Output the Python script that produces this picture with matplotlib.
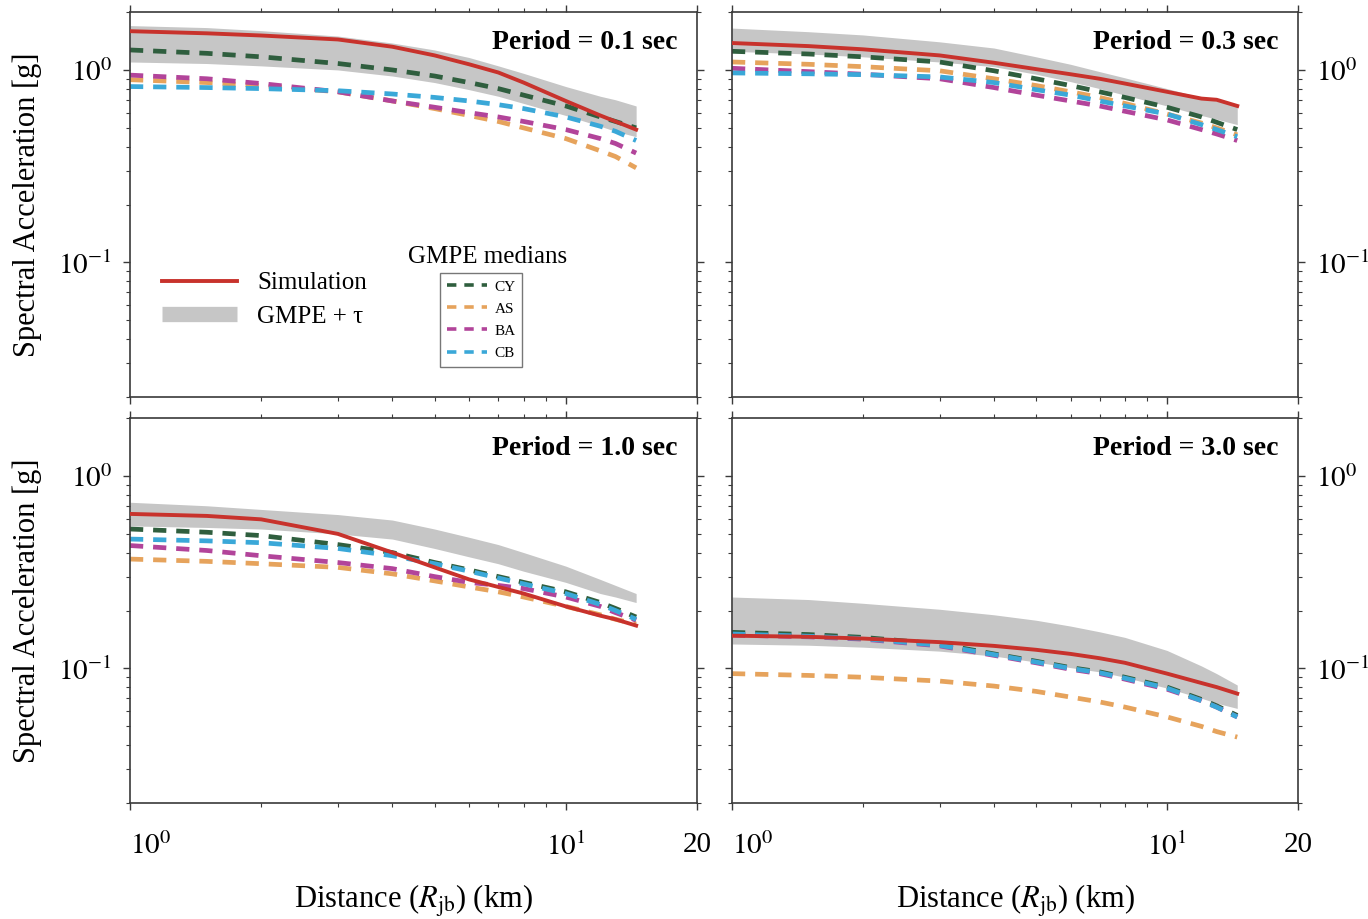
import matplotlib
matplotlib.use("Agg")
import matplotlib.pyplot as plt
from matplotlib.lines import Line2D
from matplotlib.ticker import LogLocator, NullFormatter

plt.rcParams['font.family'] = ['Liberation Serif', 'DejaVu Serif']
plt.rcParams['mathtext.fontset'] = 'stix'

# Joyner-Boore distance (km)
distance_km = [1.0, 1.5, 2.0, 3.0, 4.0, 5.0, 6.0, 7.0, 8.0, 10.0, 12.0, 13.0, 14.5]

period_labels = ["Period = 0.1 sec", "Period = 0.3 sec", "Period = 1.0 sec", "Period = 3.0 sec"]
gmpe_names = ["CY", "AS", "BA", "CB"]

# ---- T = 0.1 s ----
sim_t01 = [1.59, 1.55, 1.51, 1.44, 1.32, 1.19, 1.07, 0.97, 0.86, 0.69, 0.58, 0.54, 0.49]
band_hi_t01 = [1.70, 1.66, 1.60, 1.50, 1.38, 1.27, 1.16, 1.05, 0.96, 0.82, 0.73, 0.70, 0.65]
band_lo_t01 = [1.10, 1.08, 1.05, 1.00, 0.93, 0.86, 0.79, 0.73, 0.67, 0.58, 0.51, 0.48, 0.45]
cy_t01 = [1.27, 1.22, 1.17, 1.08, 1.00, 0.93, 0.86, 0.80, 0.74, 0.65, 0.57, 0.54, 0.50]
as_t01 = [0.89, 0.86, 0.83, 0.77, 0.69, 0.63, 0.58, 0.54, 0.50, 0.44, 0.38, 0.355, 0.31]
ba_t01 = [0.94, 0.90, 0.85, 0.77, 0.69, 0.64, 0.60, 0.57, 0.54, 0.49, 0.44, 0.415, 0.37]
cb_t01 = [0.82, 0.81, 0.80, 0.78, 0.75, 0.72, 0.69, 0.66, 0.63, 0.57, 0.51, 0.48, 0.43]

# ---- T = 0.3 s ----
sim_t03 = [1.38, 1.33, 1.28, 1.19, 1.09, 1.01, 0.95, 0.90, 0.85, 0.77, 0.71, 0.70, 0.65]
band_hi_t03 = [1.65, 1.58, 1.52, 1.40, 1.30, 1.17, 1.07, 0.98, 0.91, 0.80, 0.72, 0.69, 0.66]
band_lo_t03 = [1.25, 1.21, 1.17, 1.10, 1.04, 0.95, 0.87, 0.80, 0.74, 0.65, 0.58, 0.555, 0.52]
cy_t03 = [1.25, 1.21, 1.17, 1.10, 0.99, 0.90, 0.83, 0.77, 0.72, 0.64, 0.57, 0.535, 0.49]
as_t03 = [1.10, 1.07, 1.04, 0.99, 0.90, 0.83, 0.77, 0.72, 0.67, 0.59, 0.53, 0.50, 0.46]
ba_t03 = [1.02, 0.98, 0.95, 0.90, 0.81, 0.74, 0.69, 0.65, 0.61, 0.55, 0.49, 0.465, 0.43]
cb_t03 = [0.965, 0.955, 0.945, 0.92, 0.86, 0.79, 0.74, 0.69, 0.65, 0.59, 0.52, 0.49, 0.45]

# ---- T = 1.0 s ----
sim_t10 = [0.635, 0.62, 0.595, 0.50, 0.40, 0.335, 0.29, 0.265, 0.245, 0.21, 0.188, 0.18, 0.167]
band_hi_t10 = [0.73, 0.70, 0.67, 0.63, 0.59, 0.53, 0.48, 0.44, 0.40, 0.34, 0.29, 0.27, 0.245]
band_lo_t10 = [0.55, 0.54, 0.53, 0.50, 0.47, 0.42, 0.38, 0.35, 0.32, 0.28, 0.245, 0.235, 0.22]
cy_t10 = [0.53, 0.51, 0.49, 0.44, 0.40, 0.355, 0.325, 0.30, 0.28, 0.25, 0.22, 0.205, 0.185]
as_t10 = [0.37, 0.36, 0.35, 0.335, 0.31, 0.285, 0.265, 0.25, 0.235, 0.21, 0.19, 0.18, 0.17]
ba_t10 = [0.435, 0.41, 0.385, 0.355, 0.33, 0.30, 0.28, 0.27, 0.26, 0.235, 0.21, 0.195, 0.178]
cb_t10 = [0.47, 0.46, 0.45, 0.42, 0.385, 0.35, 0.32, 0.295, 0.275, 0.245, 0.215, 0.20, 0.18]

# ---- T = 3.0 s ----
sim_t30 = [0.148, 0.146, 0.143, 0.137, 0.131, 0.125, 0.119, 0.113, 0.107, 0.094, 0.084, 0.080, 0.074]
band_hi_t30 = [0.235, 0.228, 0.218, 0.203, 0.190, 0.178, 0.166, 0.155, 0.145, 0.124, 0.103, 0.094, 0.082]
band_lo_t30 = [0.134, 0.132, 0.129, 0.123, 0.116, 0.108, 0.101, 0.096, 0.090, 0.079, 0.070, 0.066, 0.062]
cy_t30 = [0.154, 0.150, 0.145, 0.134, 0.119, 0.109, 0.101, 0.096, 0.090, 0.080, 0.069, 0.064, 0.057]
as_t30 = [0.094, 0.092, 0.090, 0.086, 0.081, 0.076, 0.071, 0.067, 0.063, 0.056, 0.050, 0.047, 0.044]
ba_t30 = [0.149, 0.146, 0.142, 0.131, 0.117, 0.107, 0.099, 0.094, 0.088, 0.078, 0.068, 0.063, 0.056]
cb_t30 = [0.151, 0.147, 0.143, 0.132, 0.118, 0.108, 0.100, 0.095, 0.089, 0.079, 0.068, 0.063, 0.056]

panels = [
    (sim_t01, band_lo_t01, band_hi_t01, [cy_t01, as_t01, ba_t01, cb_t01]),
    (sim_t03, band_lo_t03, band_hi_t03, [cy_t03, as_t03, ba_t03, cb_t03]),
    (sim_t10, band_lo_t10, band_hi_t10, [cy_t10, as_t10, ba_t10, cb_t10]),
    (sim_t30, band_lo_t30, band_hi_t30, [cy_t30, as_t30, ba_t30, cb_t30]),
]

sim_color = '#c8322c'
band_color = '#c6c6c6'
gmpe_colors = ['#2f5e3e', '#e6a35c', '#b2449a', '#3aa8d8']
spine_color = '#3a3a3a'

W, H = 1368, 919
fig = plt.figure(figsize=(W / 100, H / 100), dpi=100)

# axes boxes in pixels: left, top, right, bottom
boxes = [(130, 12, 697, 397), (732, 12, 1298, 397),
         (130, 418, 697, 803), (732, 418, 1298, 803)]

dash_lw = 3.4
dash_pattern = (2.8, 2.1)

for i, (box, (sim, lo, hi, medians)) in enumerate(zip(boxes, panels)):
    l, t, r, b = box
    ax = fig.add_axes([l / W, 1 - b / H, (r - l) / W, (b - t) / H])
    ax.set_xscale('log')
    ax.set_yscale('log')

    ax.fill_between(distance_km, lo, hi, color=band_color, lw=0, zorder=1)
    for vals, col in zip(medians, gmpe_colors):
        ax.plot(distance_km, vals, color=col, lw=dash_lw, dashes=dash_pattern,
                zorder=2)
    ax.plot(distance_km, sim, color=sim_color, lw=2.8, zorder=3,
            solid_joinstyle='round')

    ax.set_xlim(1, 20)
    ax.set_ylim(0.02, 2)

    ax.set_xticks([1, 10, 20], labels=['$10^{0}$', '$10^{1}$', '20'])
    ax.xaxis.set_minor_locator(LogLocator(base=10, subs=range(2, 10)))
    ax.xaxis.set_minor_formatter(NullFormatter())
    ax.set_yticks([0.1, 1], labels=['$10^{-1}$', '$10^{0}$'])
    ax.yaxis.set_minor_locator(LogLocator(base=10, subs=range(2, 10)))
    ax.yaxis.set_minor_formatter(NullFormatter())
    ax.get_xticklabels()[0].set_horizontalalignment('left')

    left_col = (i % 2 == 0)
    bottom_row = (i >= 2)
    ax.tick_params(which='both', direction='out', top=True, right=True,
                   color=spine_color, labelsize=21)
    ax.tick_params(which='major', length=5, width=1.0)
    ax.tick_params(which='minor', length=3, width=0.8)
    ax.tick_params(axis='x', pad=16, labelbottom=bottom_row)
    ax.tick_params(axis='y', pad=8, labelleft=left_col, labelright=not left_col)

    for s in ax.spines.values():
        s.set_color(spine_color)
        s.set_linewidth(1.2)

    if left_col:
        ax.set_ylabel('Spectral Acceleration [g]', fontsize=22, labelpad=12)
    if bottom_row:
        ax.set_xlabel('Distance ($R_{\\mathrm{jb}}$) (km)', fontsize=22, labelpad=16)

    ax.text(0.966, 0.922, period_labels[i], transform=ax.transAxes,
            ha='right', va='center', fontsize=20, fontweight='bold')

    if i == 0:
        h1 = [Line2D([], [], color=sim_color, lw=2.8),
              Line2D([], [], color=band_color, lw=11, solid_capstyle='butt')]
        leg1 = ax.legend(h1, ['Simulation', 'GMPE + τ'], loc='upper left',
                         bbox_to_anchor=(0.057, 0.325), frameon=False, fontsize=18,
                         handlelength=3.0, handletextpad=0.8, labelspacing=0.45,
                         borderaxespad=0, borderpad=0)
        ax.add_artist(leg1)
        h2 = [Line2D([], [], color=c, lw=2.6, dashes=(2.6, 2.2)) for c in gmpe_colors]
        leg2 = ax.legend(h2, gmpe_names, loc='upper left',
                         bbox_to_anchor=(0.547, 0.322), frameon=True, fontsize=11,
                         handlelength=2.6, handletextpad=0.5, labelspacing=0.55,
                         borderaxespad=0, borderpad=0.45, fancybox=False)
        leg2.get_frame().set_edgecolor('#555555')
        leg2.get_frame().set_linewidth(1.0)
        ax.text(0.630, 0.364, 'GMPE medians', transform=ax.transAxes,
                ha='center', va='center', fontsize=18)

fig.savefig('out.png', dpi=100)
